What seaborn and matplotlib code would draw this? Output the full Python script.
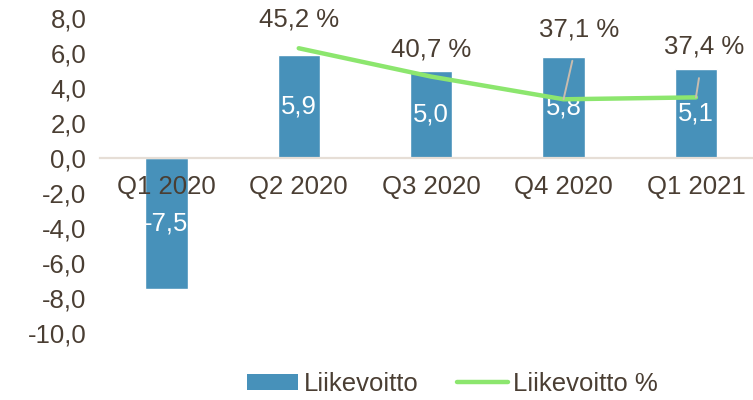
import numpy as np
import pandas as pd
import seaborn as sns
import matplotlib.pyplot as plt
from matplotlib.patches import Patch
from matplotlib.lines import Line2D

# chart data
quarters = ["Q1 2020", "Q2 2020", "Q3 2020", "Q4 2020", "Q1 2021"]
liikevoitto = [-7.5, 5.9, 5.0, 5.8, 5.1]
liikevoitto_pct = [np.nan, 45.2, 40.7, 37.1, 37.4]
y_ticks = [8.0, 6.0, 4.0, 2.0, 0.0, -2.0, -4.0, -6.0, -8.0, -10.0]

BAR_COLOR = "#4791ba"
LINE_COLOR = "#8ce66e"
TEXT_COLOR = "#4a3e33"
AXIS_COLOR = "#e6ded6"
FS = 18.5


def fi(v, fmt="{:.1f}"):
    # finnish decimal comma
    return fmt.format(v).replace(".", ",")


sns.set_theme(style="white")
plt.rcParams["font.family"] = ["Liberation Sans", "DejaVu Sans"]

df = pd.DataFrame({"quarter": quarters, "value": liikevoitto, "pct": liikevoitto_pct})

fig = plt.figure(figsize=(7.53, 4.0), dpi=100)
ax = fig.add_axes([0.133, 0.1675, 0.867 * 1.014, 0.7875])

sns.barplot(data=df, x="quarter", y="value", color=BAR_COLOR, width=0.32,
            saturation=1, ax=ax, zorder=1)
ax.set_xlim(-0.5, 4.5)
ax.set_ylim(-10, 8)
ax.set_yticks(y_ticks)
ax.set_yticklabels([fi(t) for t in y_ticks])
ax.set_xlabel("")
ax.set_ylabel("")
ax.set_axisbelow(False)  # tick labels go over the negative bar

for side in ["left", "right", "top"]:
    ax.spines[side].set_visible(False)
ax.spines["bottom"].set_position(("data", 0))
ax.spines["bottom"].set_color(AXIS_COLOR)
ax.spines["bottom"].set_linewidth(1.6)
ax.tick_params(axis="both", length=0, labelsize=FS, colors=TEXT_COLOR)
ax.tick_params(axis="x", pad=12)
ax.tick_params(axis="y", pad=10)

# bar value labels, white and centred in the bar
for i, v in enumerate(liikevoitto):
    ax.text(i, v / 2, fi(v), ha="center", va="center", color="white",
            fontsize=FS, zorder=4)

# percent line on a hidden secondary axis
ax2 = ax.twinx()
sns.lineplot(x=np.arange(len(quarters)), y=liikevoitto_pct, color=LINE_COLOR,
             linewidth=3.2, ax=ax2, solid_capstyle="round")
ax2.set_ylim(0, 50)
ax2.axis("off")

# label offsets in pixels, and which ones get a leader line
offsets = [(0, 0), (0, 29), (0, 27), (16, 70), (8, 51)]
leaders = [False, False, False, True, True]
for i, p in enumerate(liikevoitto_pct):
    if np.isnan(p):
        continue
    arrow = dict(arrowstyle="-", color="#c9bcae", lw=1.4, shrinkA=12, shrinkB=0) if leaders[i] else None
    ax2.annotate(fi(p) + " %", xy=(i, p), xytext=offsets[i], textcoords="offset pixels",
                 ha="center", va="center", fontsize=FS, color=TEXT_COLOR,
                 arrowprops=arrow)

handles = [Patch(facecolor=BAR_COLOR, edgecolor="none"),
           Line2D([0], [0], color=LINE_COLOR, linewidth=3.2, solid_capstyle="round")]
fig.legend(handles, ["Liikevoitto", "Liikevoitto %"], loc="center",
           bbox_to_anchor=(0.601, 0.04), ncol=2, frameon=False, fontsize=FS,
           labelcolor=TEXT_COLOR, handlelength=2.0, handleheight=0.6,
           handletextpad=0.2, columnspacing=1.5)

fig.savefig("out.png", dpi=100)
